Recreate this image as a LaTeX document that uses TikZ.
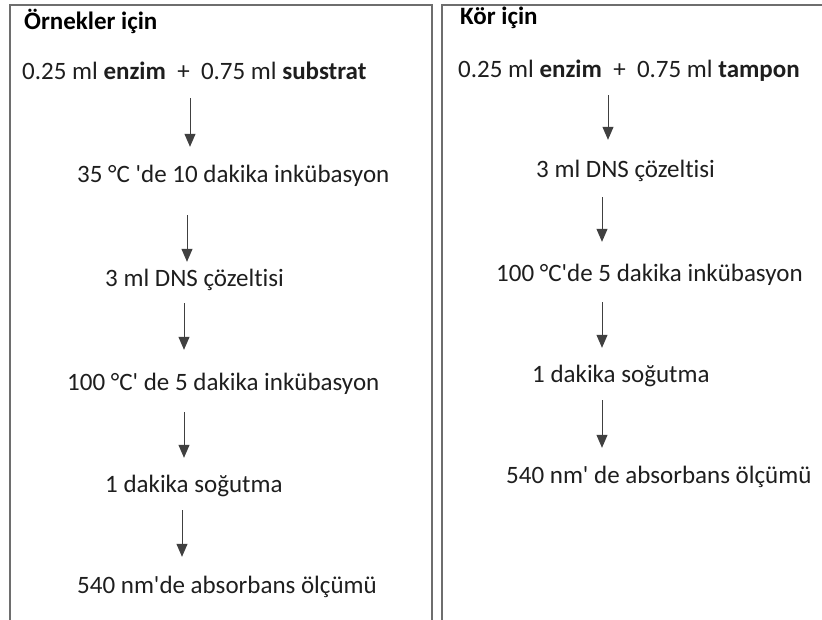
\documentclass[tikz,border=0pt]{standalone}
\usepackage{fontspec}
\setmainfont{Carlito}[Ligatures={NoCommon}]
\usetikzlibrary{arrows.meta}
\definecolor{framegray}{HTML}{6E6E6E}
\definecolor{arrowgray}{HTML}{404040}
\definecolor{textgray}{HTML}{1E1E1E}
\tikzset{
  steptext/.style={anchor=base west, inner sep=0pt, text height=15pt, text depth=5pt,
    font=\fontsize{25}{29}\selectfont, text=textgray},
  titletext/.style={steptext, font=\fontsize{25}{29}\selectfont\bfseries, text=black},
  flow/.style={arrowgray, line width=1pt, -{Triangle[width=11pt,length=13pt]}},
  frame/.style={framegray, line width=1.6pt}
}
\begin{document}
\begin{tikzpicture}[x=1pt,y=-1pt]
  \def\boxtop{5}
  \def\boxbottom{620}
  \useasboundingbox (0,0) rectangle (822,620);

  % open frames
  \draw[frame] (10,\boxbottom) -- (10,\boxtop) -- (432,\boxtop) -- (432,\boxbottom);
  \draw[frame] (442,\boxbottom) -- (442,\boxtop) -- (822,\boxtop);

  % arrow axes
  \coordinate (aS1) at (190,0);
  \coordinate (aS2) at (187,0);
  \coordinate (aS3) at (184,0);
  \coordinate (aS4) at (184,0);
  \coordinate (aS5) at (182,0);
  \coordinate (aB1) at (608,0);
  \coordinate (aB2) at (602,0);
  \coordinate (aB3) at (602,0);
  \coordinate (aB4) at (602,0);

  % samples
  \node[titletext] (titleS) at (24,30) {Örnekler için};
  \node[steptext] (s0) at (22,80) {0.25 ml \textbf{enzim}\ \ +\ \ 0.75 ml \textbf{substrat}};
  \node[steptext] (s1) at (77,183) {35 °C \textquotesingle de 10 dakika inkübasyon};
  \node[steptext] (s2) at (105,287) {3 ml DNS çözeltisi};
  \node[steptext] (s3) at (67,390) {100 °C\textquotesingle\ de 5 dakika inkübasyon};
  \node[steptext] (s4) at (105,492) {1 dakika soğutma};
  \node[steptext] (s5) at (77,593) {540 nm\textquotesingle de absorbans ölçümü};

  \draw[flow, shorten <=13pt, shorten >=21pt] (s0.south -| aS1) -- (s1.north -| aS1);
  \draw[flow, shorten <=27pt, shorten >=10pt] (s1.south -| aS2) -- (s2.north -| aS2);
  \draw[flow, shorten <=11pt, shorten >=25pt] (s2.south -| aS3) -- (s3.north -| aS3);
  \draw[flow, shorten <=17pt, shorten >=19pt] (s3.south -| aS4) -- (s4.north -| aS4);
  \draw[flow, shorten <=13pt, shorten >=21pt] (s4.south -| aS5) -- (s5.north -| aS5);

  % blank
  \node[titletext] (titleB) at (460,25) {Kör için};
  \node[steptext] (b0) at (458,78) {0.25 ml \textbf{enzim}\ \ +\ \ 0.75 ml \textbf{tampon}};
  \node[steptext] (b1) at (536,178) {3 ml DNS çözeltisi};
  \node[steptext] (b2) at (496,282) {100 °C\textquotesingle de 5 dakika inkübasyon};
  \node[steptext] (b3) at (532,382) {1 dakika soğutma};
  \node[steptext] (b4) at (506,483) {540 nm\textquotesingle\ de absorbans ölçümü};

  \draw[flow, shorten <=12pt, shorten >=23pt] (b0.south -| aB1) -- (b1.north -| aB1);
  \draw[flow, shorten <=14pt, shorten >=25pt] (b1.south -| aB2) -- (b2.north -| aB2);
  \draw[flow, shorten <=15pt, shorten >=19pt] (b2.south -| aB3) -- (b3.north -| aB3);
  \draw[flow, shorten <=13pt, shorten >=20pt] (b3.south -| aB4) -- (b4.north -| aB4);
\end{tikzpicture}
\end{document}
